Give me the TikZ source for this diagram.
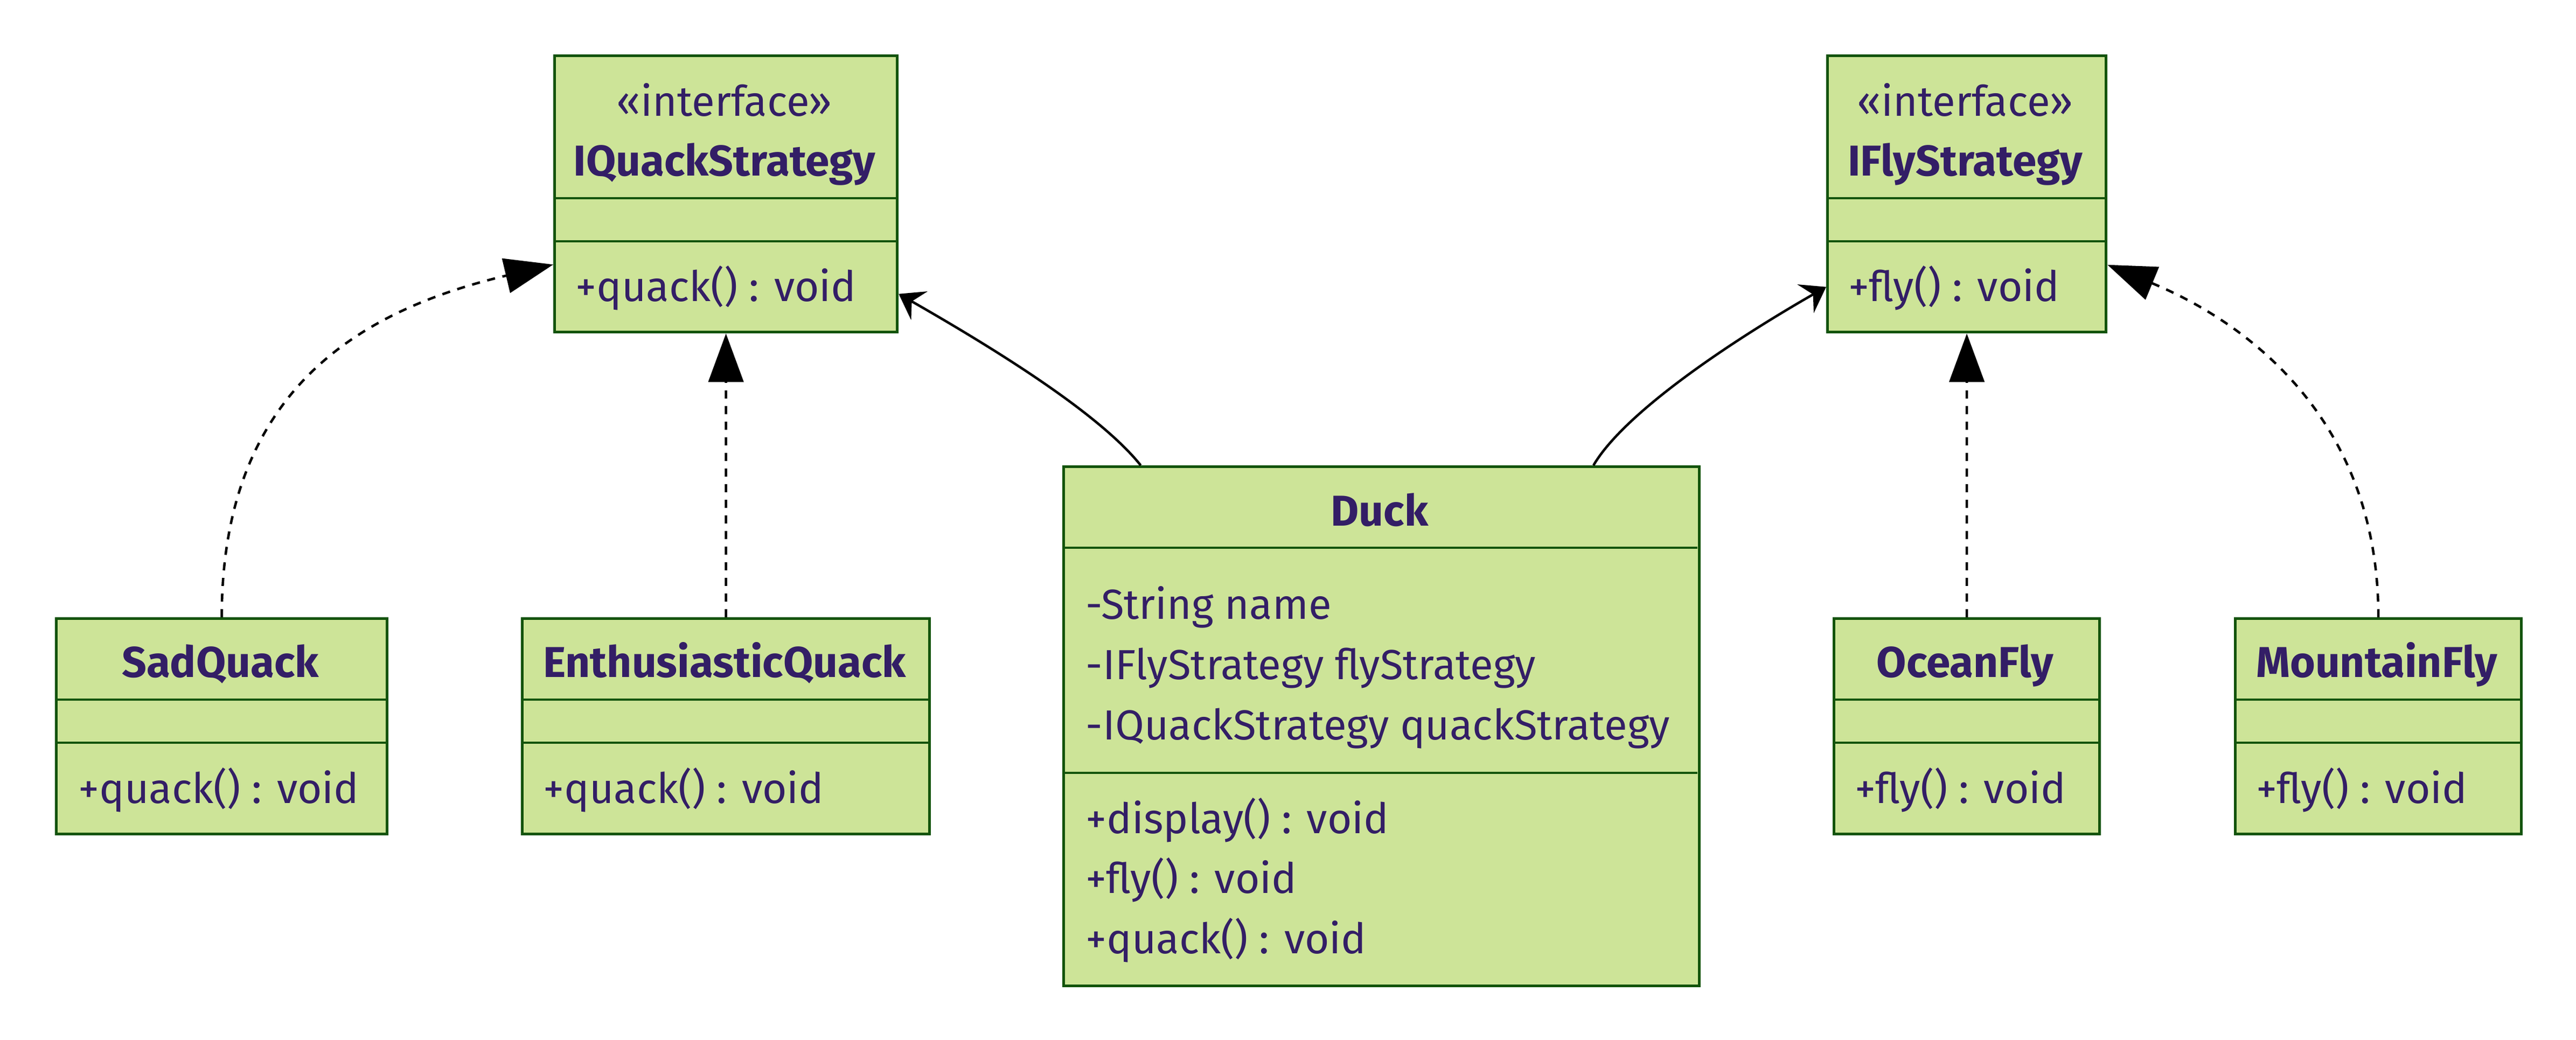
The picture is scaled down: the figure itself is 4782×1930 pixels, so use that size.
\documentclass[tikz,border=0pt]{standalone}
\usepackage{fontspec}
\setmainfont{Fira Sans}
\usepackage{xcolor}
\usetikzlibrary{arrows.meta}
\definecolor{boxfill}{HTML}{CDE498}
\definecolor{boxline}{HTML}{13540C}
\definecolor{boxtext}{HTML}{331E66}

\begin{document}
\begin{tikzpicture}[x=0.01cm, y=-0.01cm,
    umlbox/.style={draw=boxline, fill=boxfill, line width=1.4pt, inner sep=0pt, anchor=north west},
    divider/.style={draw=boxline, line width=1.4pt},
    title/.style={text=boxtext, font=\fontsize{22.8pt}{26pt}\selectfont\bfseries, anchor=base, inner sep=0pt},
    stereo/.style={text=boxtext, font=\fontsize{22.2pt}{26pt}\selectfont, anchor=base, inner sep=0pt},
    member/.style={text=boxtext, font=\fontsize{22.2pt}{26pt}\selectfont, anchor=base west, inner sep=0pt},
    realize/.style={line width=1.3pt, dash pattern=on 0.15cm off 0.14cm, -{Triangle[length=0.9cm, width=0.65cm]}},
    assoc/.style={line width=1.3pt, -{Stealth[length=0.44cm, width=0.61cm, inset=0.16cm]}}]
        \useasboundingbox (0,0) rectangle (4782,1930);
        % interfaces
        \node[umlbox, minimum width=6.36cm, minimum height=5.13cm] (iquack) at (1027,101) {};
        \draw[divider] (1027,368) -- (1663,368);
        \draw[divider] (1027,448) -- (1663,448);
        \node[stereo] (iquackst) at (1345,215) {«interface»};
        \node[title] (iquackname) at (1345,326) {IQuackStrategy};
        \node[member] (iquackop) at (1068,559) {+quack() : void};

        \node[umlbox, minimum width=5.17cm, minimum height=5.13cm] (ifly) at (3390,101) {};
        \draw[divider] (3390,368) -- (3907,368);
        \draw[divider] (3390,448) -- (3907,448);
        \node[stereo] (iflyst) at (3648,215) {«interface»};
        \node[title] (iflyname) at (3648,326) {IFlyStrategy};
        \node[member] (iflyop) at (3431,559) {+fly() : void};

        % quack classes
        \node[umlbox, minimum width=6.14cm, minimum height=4.00cm] (sad) at (102,1146) {};
        \draw[divider] (102,1299) -- (716,1299);
        \draw[divider] (102,1379) -- (716,1379);
        \node[title] (sadname) at (409,1257) {SadQuack};
        \node[member] (sadop) at (145,1491) {+quack() : void};

        \node[umlbox, minimum width=7.56cm, minimum height=4.00cm] (enth) at (967,1146) {};
        \draw[divider] (967,1299) -- (1723,1299);
        \draw[divider] (967,1379) -- (1723,1379);
        \node[title] (enthname) at (1345,1257) {EnthusiasticQuack};
        \node[member] (enthop) at (1008,1491) {+quack() : void};

        % duck
        \node[umlbox, minimum width=11.79cm, minimum height=9.63cm] (duck) at (1972,864) {};
        \draw[divider] (1972,1017) -- (3151,1017);
        \draw[divider] (1972,1435) -- (3151,1435);
        \node[title] (duckname) at (2561,976) {Duck};
        \node[member] (duckattra) at (2015,1149) {-String name};
        \node[member] (duckattrb) at (2015,1261) {-IFlyStrategy flyStrategy};
        \node[member] (duckattrc) at (2015,1373) {-IQuackStrategy quackStrategy};
        \node[member] (duckopa) at (2015,1547) {+display() : void};
        \node[member] (duckopb) at (2015,1658) {+fly() : void};
        \node[member] (duckopc) at (2015,1770) {+quack() : void};

        % fly classes
        \node[umlbox, minimum width=4.93cm, minimum height=4.00cm] (ocean) at (3402,1146) {};
        \draw[divider] (3402,1299) -- (3895,1299);
        \draw[divider] (3402,1379) -- (3895,1379);
        \node[title] (oceanname) at (3648,1257) {OceanFly};
        \node[member] (oceanop) at (3443,1491) {+fly() : void};

        \node[umlbox, minimum width=5.31cm, minimum height=4.00cm] (mountain) at (4147,1146) {};
        \draw[divider] (4147,1299) -- (4678,1299);
        \draw[divider] (4147,1379) -- (4678,1379);
        \node[title] (mountainname) at (4412,1257) {MountainFly};
        \node[member] (mountainop) at (4188,1491) {+fly() : void};

        % relations
        \draw[realize] (sad.north) .. controls +(0,-420) and +(-360,85) .. ([yshift=-1.31cm]iquack.west);
        \draw[realize] (enth.north) -- (iquack.south);
        \draw[assoc] ([xshift=-4.465cm]duck.north) .. controls +(-75,-94) and +(187,107) .. ([yshift=-1.855cm]iquack.east);
        \draw[assoc] ([xshift=3.935cm]duck.north) .. controls +(55,-94) and +(-190,109) .. ([yshift=-1.725cm]ifly.west);
        \draw[realize] (ocean.north) -- (ifly.south);
        \draw[realize] (mountain.north) .. controls +(0,-390) and +(230,95) .. ([yshift=-1.315cm]ifly.east);
      \end{tikzpicture}
\end{document}
